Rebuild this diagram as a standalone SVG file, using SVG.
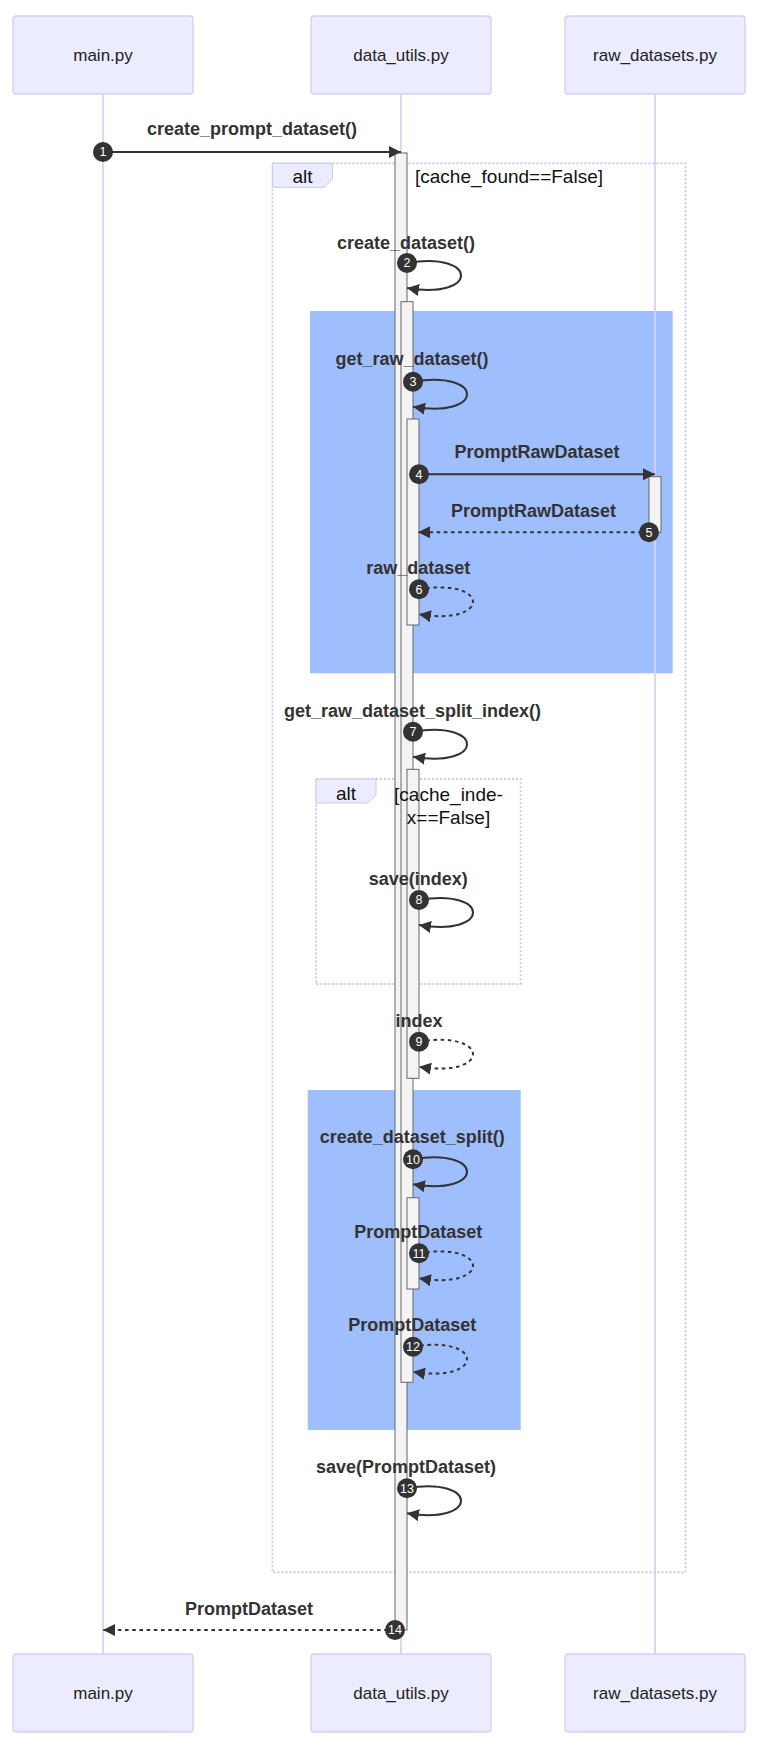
<svg xmlns="http://www.w3.org/2000/svg" width="765" height="1750" viewBox="0 0 765 1750">
<defs>
<style>
.actor{fill:#ECECFF;stroke:#D7CEF2;stroke-width:1.3}
.actor-text{font-family:"Liberation Sans",Arial,sans-serif;font-size:17px;fill:#222;text-anchor:middle}
.lifeline{stroke:#D9D2F3;stroke-width:1.8}
.block{fill:#9EBEFE}
.frame{fill:none;stroke:#CFC7EF;stroke-width:2;stroke-dasharray:2,2}
.tab{fill:#ECECFF;stroke:#CFC7EF;stroke-width:1}
.frame-text{font-family:"Liberation Sans",Arial,sans-serif;font-size:19px;fill:#111;text-anchor:middle}
.act{fill:#F4F4F4;stroke:#666;stroke-width:1}
.msg{fill:none;stroke:#333;stroke-width:2;marker-end:url(#arrow)}
.dash{stroke-dasharray:3.6,3.6}
.label{font-family:"Liberation Sans",Arial,sans-serif;font-size:18px;font-weight:bold;fill:#333;text-anchor:middle}
.num{fill:#333}
.num-text{font-family:"Liberation Sans",Arial,sans-serif;font-size:12.5px;fill:#fff;text-anchor:middle}
</style>
<marker id="arrow" viewBox="0 0 12 12" refX="12" refY="6" markerWidth="12" markerHeight="12" markerUnits="userSpaceOnUse" orient="auto">
<path d="M0,0 L12,6 L0,12 z" fill="#333"/>
</marker>
</defs>
<rect width="765" height="1750" fill="#fff"/>

<g id="blocks">
<rect class="block" x="310" y="311" width="362.7" height="362.3"/>
<rect class="block" x="307.7" y="1090" width="213" height="340"/>
</g>

<g id="lifelines">
<line class="lifeline" x1="103" y1="94" x2="103" y2="1654"/>
<line class="lifeline" x1="401" y1="94" x2="401" y2="1654"/>
<line class="lifeline" x1="655" y1="94" x2="655" y2="1654"/>
</g>

<g id="actor-main-top"><rect class="actor" x="13" y="16" width="180" height="78" rx="3"/><text class="actor-text" x="103" y="61">main.py</text></g>
<g id="actor-data-top"><rect class="actor" x="311" y="16" width="180" height="78" rx="3"/><text class="actor-text" x="401" y="61">data_utils.py</text></g>
<g id="actor-raw-top"><rect class="actor" x="565" y="16" width="180" height="78" rx="3"/><text class="actor-text" x="655" y="61">raw_datasets.py</text></g>
<g id="actor-main-bottom"><rect class="actor" x="13" y="1654" width="180" height="78" rx="3"/><text class="actor-text" x="103" y="1699">main.py</text></g>
<g id="actor-data-bottom"><rect class="actor" x="311" y="1654" width="180" height="78" rx="3"/><text class="actor-text" x="401" y="1699">data_utils.py</text></g>
<g id="actor-raw-bottom"><rect class="actor" x="565" y="1654" width="180" height="78" rx="3"/><text class="actor-text" x="655" y="1699">raw_datasets.py</text></g>

<g id="alt-outer-frame">
<rect class="frame" x="272.5" y="163.3" width="413" height="1409"/>
<polygon class="tab" points="272.5,163.3 332.5,163.3 332.5,179 324,187.3 272.5,187.3"/>
</g>
<g id="alt-inner-frame">
<rect class="frame" x="316" y="779" width="204.7" height="205"/>
<polygon class="tab" points="316,779 376,779 376,795 367.6,803 316,803"/>
</g>

<g id="activations">
<rect class="act" x="395" y="153" width="12" height="1477"/>
<rect class="act" x="401" y="301.7" width="12" height="1080.6"/>
<rect class="act" x="407" y="419" width="12" height="206"/>
<rect class="act" x="407" y="769.3" width="12" height="309"/>
<rect class="act" x="407" y="1197.7" width="12" height="91.3"/>
<rect class="act" x="649" y="476.7" width="12" height="55.6"/>
</g>

<g id="alt-outer-text">
<text class="frame-text" x="302.5" y="183">alt</text>
<text class="frame-text" x="509" y="183">[cache_found==False]</text>
</g>
<g id="alt-inner-text">
<text class="frame-text" x="346" y="800">alt</text>
<text class="frame-text" x="448.5" y="801">[cache_inde-</text>
<text class="frame-text" x="448.5" y="823.5">x==False]</text>
</g>

<g id="connectors">
<line class="msg" x1="103" y1="152" x2="401" y2="152"/>
<path class="msg" d="M407,263 C479,251 479,300 407,288"/>
<path class="msg" d="M413,381.7 C485,369.7 485,418.7 413,406.7"/>
<line class="msg" x1="419" y1="474.3" x2="655" y2="474.3"/>
<line class="msg dash" x1="649" y1="532.3" x2="418" y2="532.3"/>
<path class="msg dash" d="M419,589.3 C491,577.3 491,626.3 419,614.3"/>
<path class="msg" d="M413,731.7 C485,719.7 485,768.7 413,756.7"/>
<path class="msg" d="M419,900 C491,888 491,937 419,925"/>
<path class="msg dash" d="M419,1041.7 C491,1029.7 491,1078.7 419,1066.7"/>
<path class="msg" d="M413,1159.3 C485,1147.3 485,1196.3 413,1184.3"/>
<path class="msg dash" d="M419,1253.3 C491,1241.3 491,1290.3 419,1278.3"/>
<path class="msg dash" d="M413,1346.7 C485,1334.7 485,1383.7 413,1371.7"/>
<path class="msg" d="M407,1488.3 C479,1476.3 479,1525.3 407,1513.3"/>
<line class="msg dash" x1="395" y1="1630" x2="103" y2="1630"/>
</g>

<g id="message-labels">
<text class="label" x="252" y="135">create_prompt_dataset()</text>
<text class="label" x="406" y="249">create_dataset()</text>
<text class="label" x="412" y="365">get_raw_dataset()</text>
<text class="label" x="537" y="458">PromptRawDataset</text>
<text class="label" x="533.5" y="516.7">PromptRawDataset</text>
<text class="label" x="418.3" y="574">raw_dataset</text>
<text class="label" x="412.5" y="716.7">get_raw_dataset_split_index()</text>
<text class="label" x="418.3" y="885">save(index)</text>
<text class="label" x="419" y="1026.7">index</text>
<text class="label" x="412.3" y="1143.3">create_dataset_split()</text>
<text class="label" x="418.3" y="1237.7">PromptDataset</text>
<text class="label" x="412.3" y="1330.7">PromptDataset</text>
<text class="label" x="406" y="1473.3">save(PromptDataset)</text>
<text class="label" x="249" y="1615">PromptDataset</text>
</g>

<g id="sequence-numbers">
<circle class="num" cx="103" cy="152" r="10"/><text class="num-text" x="103" y="156.4">1</text>
<circle class="num" cx="407" cy="263" r="10"/><text class="num-text" x="407" y="267.4">2</text>
<circle class="num" cx="413" cy="381.7" r="10"/><text class="num-text" x="413" y="386.1">3</text>
<circle class="num" cx="419" cy="474.3" r="10"/><text class="num-text" x="419" y="478.7">4</text>
<circle class="num" cx="649" cy="532.3" r="10"/><text class="num-text" x="649" y="536.7">5</text>
<circle class="num" cx="419" cy="589.3" r="10"/><text class="num-text" x="419" y="593.7">6</text>
<circle class="num" cx="413" cy="731.7" r="10"/><text class="num-text" x="413" y="736.1">7</text>
<circle class="num" cx="419" cy="900" r="10"/><text class="num-text" x="419" y="904.4">8</text>
<circle class="num" cx="419" cy="1041.7" r="10"/><text class="num-text" x="419" y="1046.1">9</text>
<circle class="num" cx="413" cy="1159.3" r="10"/><text class="num-text" x="413" y="1163.7">10</text>
<circle class="num" cx="419" cy="1253.3" r="10"/><text class="num-text" x="419" y="1257.7">11</text>
<circle class="num" cx="413" cy="1346.7" r="10"/><text class="num-text" x="413" y="1351.1">12</text>
<circle class="num" cx="407" cy="1488.3" r="10"/><text class="num-text" x="407" y="1492.7">13</text>
<circle class="num" cx="395" cy="1630" r="10"/><text class="num-text" x="395" y="1634.4">14</text>
</g>
</svg>
